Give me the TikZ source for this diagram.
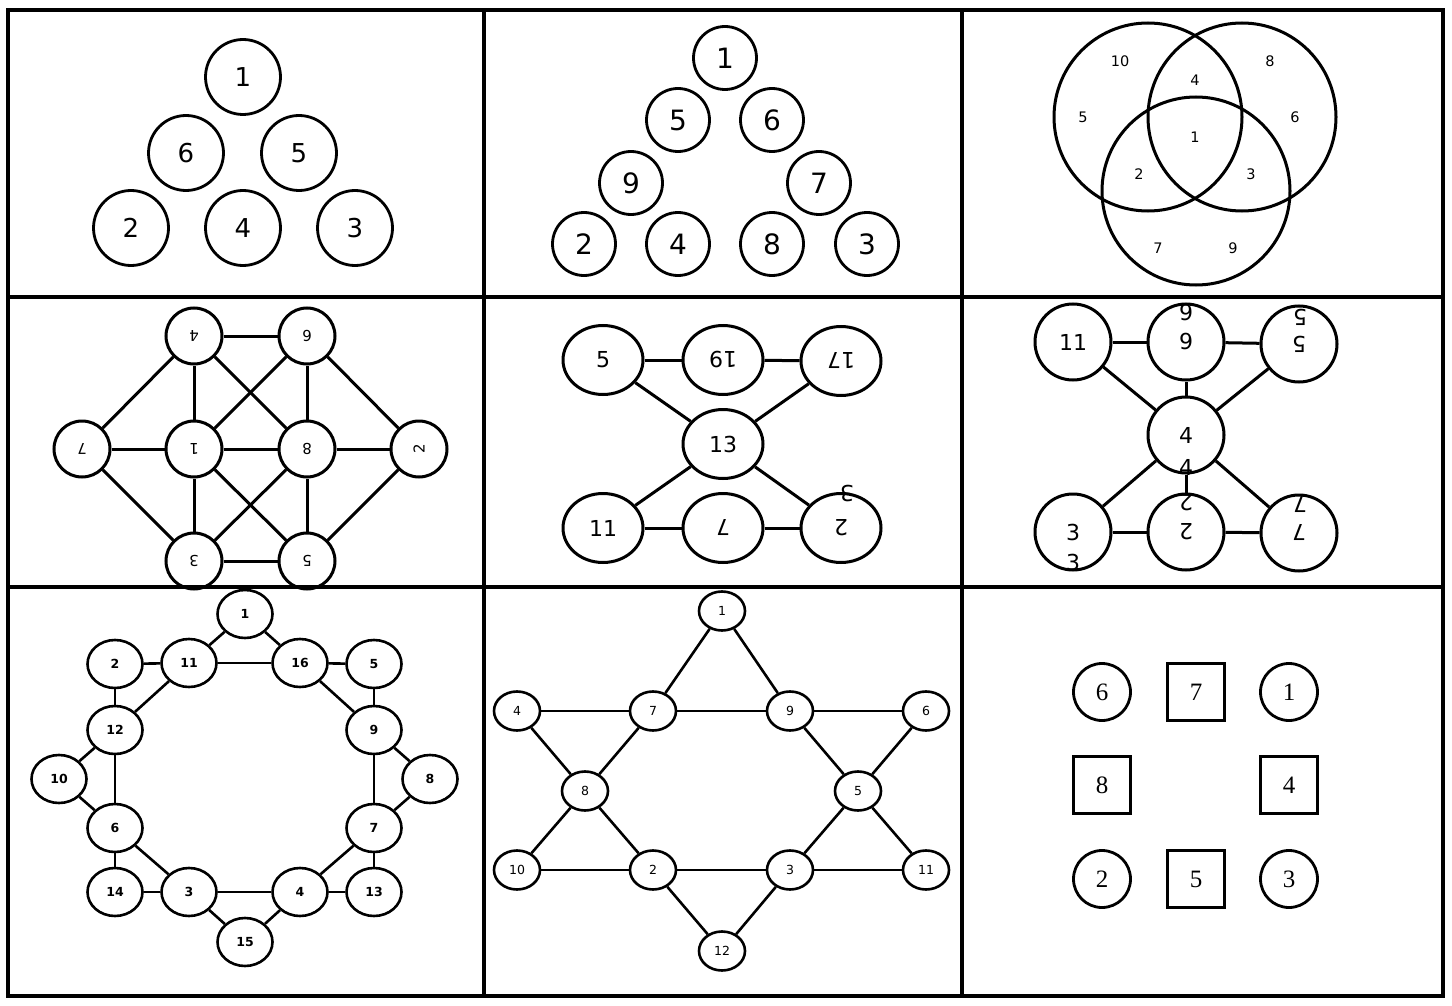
\documentclass[tikz,border=0pt]{standalone}
\usepackage{fontspec}
\setmainfont{DejaVu Sans}
\newfontfamily\serifnum{Liberation Serif}
\usetikzlibrary{shapes.geometric}
\begin{document}
\begin{tikzpicture}[x=1pt,y=-1pt,
  gridline/.style={line width=3.2pt},
  cA/.style={circle,draw,line width=2.8pt,minimum size=75pt,inner sep=0pt,font=\fontsize{26}{26}\selectfont},
  cB/.style={circle,draw,line width=2.8pt,minimum size=63pt,inner sep=0pt,font=\fontsize{28}{28}\selectfont},
  venn/.style={line width=3pt},
  vlab/.style={inner sep=0pt,font=\fontsize{14.5}{14.5}\selectfont},
  cD/.style={circle,draw,line width=3pt,minimum size=56pt,inner sep=0pt,font=\fontsize{15}{15}\selectfont},
  eE/.style={ellipse,draw,line width=3pt,minimum width=80pt,minimum height=69pt,inner sep=0pt,font=\fontsize{22}{22}\selectfont},
  cF/.style={circle,draw,line width=3pt,minimum size=76pt,inner sep=0pt,font=\fontsize{22}{22}\selectfont},
  xlab/.style={inner sep=0pt,font=\fontsize{22}{22}\selectfont},
  eG/.style={ellipse,draw,line width=2.6pt,minimum width=55pt,minimum height=48pt,inner sep=0pt,font=\bfseries\fontsize{12.5}{12.5}\selectfont},
  eH/.style={ellipse,draw,line width=2.6pt,minimum width=46pt,minimum height=39pt,inner sep=0pt,font=\fontsize{12.5}{12.5}\selectfont},
  cI/.style={circle,draw,line width=2.8pt,minimum size=57pt,inner sep=0pt,font=\serifnum\fontsize{25}{25}\selectfont},
  sI/.style={rectangle,draw,line width=2.8pt,minimum size=57pt,inner sep=0pt,font=\serifnum\fontsize{25}{25}\selectfont},
  edge/.style={line width=3pt},
  thin/.style={line width=2.6pt},
  up/.style={rotate=180}
]
\useasboundingbox (0,0) rectangle (1452,1006);
\fill[white] (0,0) rectangle (1452,1006);
% grid
\draw[gridline] (8,10) rectangle (1443,996);
\draw[gridline] (484,10) -- (484,996);
\draw[gridline] (962,10) -- (962,996);
\draw[gridline] (8,297) -- (1443,297);
\draw[gridline] (8,587) -- (1443,587);

% panel 1
\node[cA] (a1) at (243,77) {1};
\node[cA] (a6) at (186,153) {6};
\node[cA] (a5) at (299,153) {5};
\node[cA] (a2) at (131,228) {2};
\node[cA] (a4) at (243,228) {4};
\node[cA] (a3) at (355,228) {3};

% panel 2
\node[cB] (b1) at (725,58) {1};
\node[cB] (b5) at (678,120) {5};
\node[cB] (b6) at (772,120) {6};
\node[cB] (b9) at (631,183) {9};
\node[cB] (b7) at (819,183) {7};
\node[cB] (b2) at (584,244) {2};
\node[cB] (b4) at (678,244) {4};
\node[cB] (b8) at (772,244) {8};
\node[cB] (b3) at (867,244) {3};

% panel 3 Venn
\draw[venn] (1148,117) circle[radius=94];
\draw[venn] (1242,117) circle[radius=94];
\draw[venn] (1196,191) circle[radius=94];
\node[vlab] (v10) at (1120,61) {10};
\node[vlab] (v8) at (1270,61) {8};
\node[vlab] (v4) at (1195,80) {4};
\node[vlab] (v5) at (1083,117) {5};
\node[vlab] (v6) at (1295,117) {6};
\node[vlab] (v1) at (1195,137) {1};
\node[vlab] (v2) at (1139,174) {2};
\node[vlab] (v3) at (1251,174) {3};
\node[vlab] (v7) at (1158,248) {7};
\node[vlab] (v9) at (1233,248) {9};

% panel 4
\node[cD,up] (d4) at (194,336) {4};
\node[cD,up] (d6) at (307,336) {6};
\node[cD,up] (d7) at (82,449) {7};
\node[cD,up] (d1) at (194,449) {1};
\node[cD,up] (d8) at (307,449) {8};
\node[cD,rotate=90] (d2) at (419,449) {2};
\node[cD,up] (d3) at (194,561) {3};
\node[cD,up] (d5) at (307,561) {5};
\draw[edge] (d4) -- (d6);
\draw[edge] (d4) -- (d7);
\draw[edge] (d4) -- (d1);
\draw[edge] (d4) -- (d8);
\draw[edge] (d6) -- (d1);
\draw[edge] (d6) -- (d8);
\draw[edge] (d6) -- (d2);
\draw[edge] (d7) -- (d1);
\draw[edge] (d7) -- (d3);
\draw[edge] (d1) -- (d8);
\draw[edge] (d1) -- (d3);
\draw[edge] (d1) -- (d5);
\draw[edge] (d8) -- (d2);
\draw[edge] (d8) -- (d3);
\draw[edge] (d8) -- (d5);
\draw[edge] (d3) -- (d5);
\draw[edge] (d5) -- (d2);

% panel 5
\node[eE] (e5) at (603,360) {5};
\node[eE,up] (e19) at (723,360) {19};
\node[eE,up] (e17) at (841,361) {17};
\node[eE] (e13) at (723,444) {13};
\node[eE] (e11) at (603,528) {11};
\node[eE,up] (e7) at (723,528) {7};
\node[eE,up] (e2) at (841,528) {2};
\node[xlab,up] (e3x) at (847,494) {3};
\draw[edge] (e5) -- (e19);
\draw[edge] (e19) -- (e17);
\draw[edge] (e5) -- (e13);
\draw[edge] (e17) -- (e13);
\draw[edge] (e13) -- (e11);
\draw[edge] (e13) -- (e2);
\draw[edge] (e11) -- (e7);
\draw[edge] (e7) -- (e2);

% panel 6
\node[cF] (f11) at (1073,342) {11};
\node[cF,up] (f6) at (1186,342) {6};
\node[cF,up] (f5) at (1299,344) {5};
\node[cF] (f4) at (1186,435) {4};
\node[cF] (f3) at (1073,532) {3};
\node[cF,up] (f2) at (1186,532) {2};
\node[cF,up] (f7) at (1299,533) {7};
\node[xlab,up] (f6x) at (1186,313) {6};
\node[xlab,up] (f5x) at (1300,317) {5};
\node[xlab] (f4x) at (1186,467) {4};
\node[xlab,up] (f2x) at (1186,503) {2};
\node[xlab,up] (f7x) at (1300,505) {7};
\node[xlab] (f3x) at (1073,562) {3};
\draw[edge] (f11) -- (f6);
\draw[edge] (f6) -- (f5);
\draw[edge] (f11) -- (f4);
\draw[edge] (f6) -- (f4);
\draw[edge] (f5) -- (f4);
\draw[edge] (f4) -- (f3);
\draw[edge] (f4) -- (f2);
\draw[edge] (f4) -- (f7);
\draw[edge] (f3) -- (f2);
\draw[edge] (f2) -- (f7);

% panel 7
\node[eG] (g1) at (245,614) {1};
\node[eG] (g2) at (115,664) {2};
\node[eG] (g11) at (189,663) {11};
\node[eG] (g16) at (300,663) {16};
\node[eG] (g5) at (374,664) {5};
\node[eG] (g12) at (115,730) {12};
\node[eG] (g9) at (374,730) {9};
\node[eG] (g10) at (59,779) {10};
\node[eG] (g8) at (430,779) {8};
\node[eG] (g6) at (115,828) {6};
\node[eG] (g7) at (374,828) {7};
\node[eG] (g14) at (115,892) {14};
\node[eG] (g3) at (189,892) {3};
\node[eG] (g4) at (300,892) {4};
\node[eG] (g13) at (374,892) {13};
\node[eG] (g15) at (245,942) {15};
\draw[thin] (g1) -- (g11);
\draw[thin] (g1) -- (g16);
\draw[thin] (g2) -- (g11);
\draw[thin] (g11) -- (g16);
\draw[thin] (g16) -- (g5);
\draw[thin] (g2) -- (g12);
\draw[thin] (g11) -- (g12);
\draw[thin] (g16) -- (g9);
\draw[thin] (g5) -- (g9);
\draw[thin] (g12) -- (g10);
\draw[thin] (g12) -- (g6);
\draw[thin] (g9) -- (g8);
\draw[thin] (g9) -- (g7);
\draw[thin] (g10) -- (g6);
\draw[thin] (g8) -- (g7);
\draw[thin] (g6) -- (g14);
\draw[thin] (g6) -- (g3);
\draw[thin] (g7) -- (g4);
\draw[thin] (g7) -- (g13);
\draw[thin] (g14) -- (g3);
\draw[thin] (g3) -- (g4);
\draw[thin] (g4) -- (g13);
\draw[thin] (g3) -- (g15);
\draw[thin] (g4) -- (g15);

% panel 8
\node[eH] (h1) at (722,611) {1};
\node[eH] (h4) at (517,711) {4};
\node[eH] (h7) at (653,711) {7};
\node[eH] (h9) at (790,711) {9};
\node[eH] (h6) at (926,711) {6};
\node[eH] (h8) at (585,791) {8};
\node[eH] (h5) at (858,791) {5};
\node[eH] (h10) at (517,870) {10};
\node[eH] (h2) at (653,870) {2};
\node[eH] (h3) at (790,870) {3};
\node[eH] (h11) at (926,870) {11};
\node[eH] (h12) at (722,951) {12};
\draw[thin] (h1) -- (h7);
\draw[thin] (h1) -- (h9);
\draw[thin] (h4) -- (h7);
\draw[thin] (h7) -- (h9);
\draw[thin] (h9) -- (h6);
\draw[thin] (h4) -- (h8);
\draw[thin] (h7) -- (h8);
\draw[thin] (h9) -- (h5);
\draw[thin] (h6) -- (h5);
\draw[thin] (h8) -- (h10);
\draw[thin] (h8) -- (h2);
\draw[thin] (h5) -- (h3);
\draw[thin] (h5) -- (h11);
\draw[thin] (h10) -- (h2);
\draw[thin] (h2) -- (h3);
\draw[thin] (h3) -- (h11);
\draw[thin] (h2) -- (h12);
\draw[thin] (h3) -- (h12);

% panel 9
\node[cI] (i6) at (1102,692) {6};
\node[sI] (i7) at (1196,692) {7};
\node[cI] (i1) at (1289,692) {1};
\node[sI] (i8) at (1102,785) {8};
\node[sI] (i4) at (1289,785) {4};
\node[cI] (i2) at (1102,879) {2};
\node[sI] (i5) at (1196,879) {5};
\node[cI] (i3) at (1289,879) {3};
\end{tikzpicture}
\end{document}
